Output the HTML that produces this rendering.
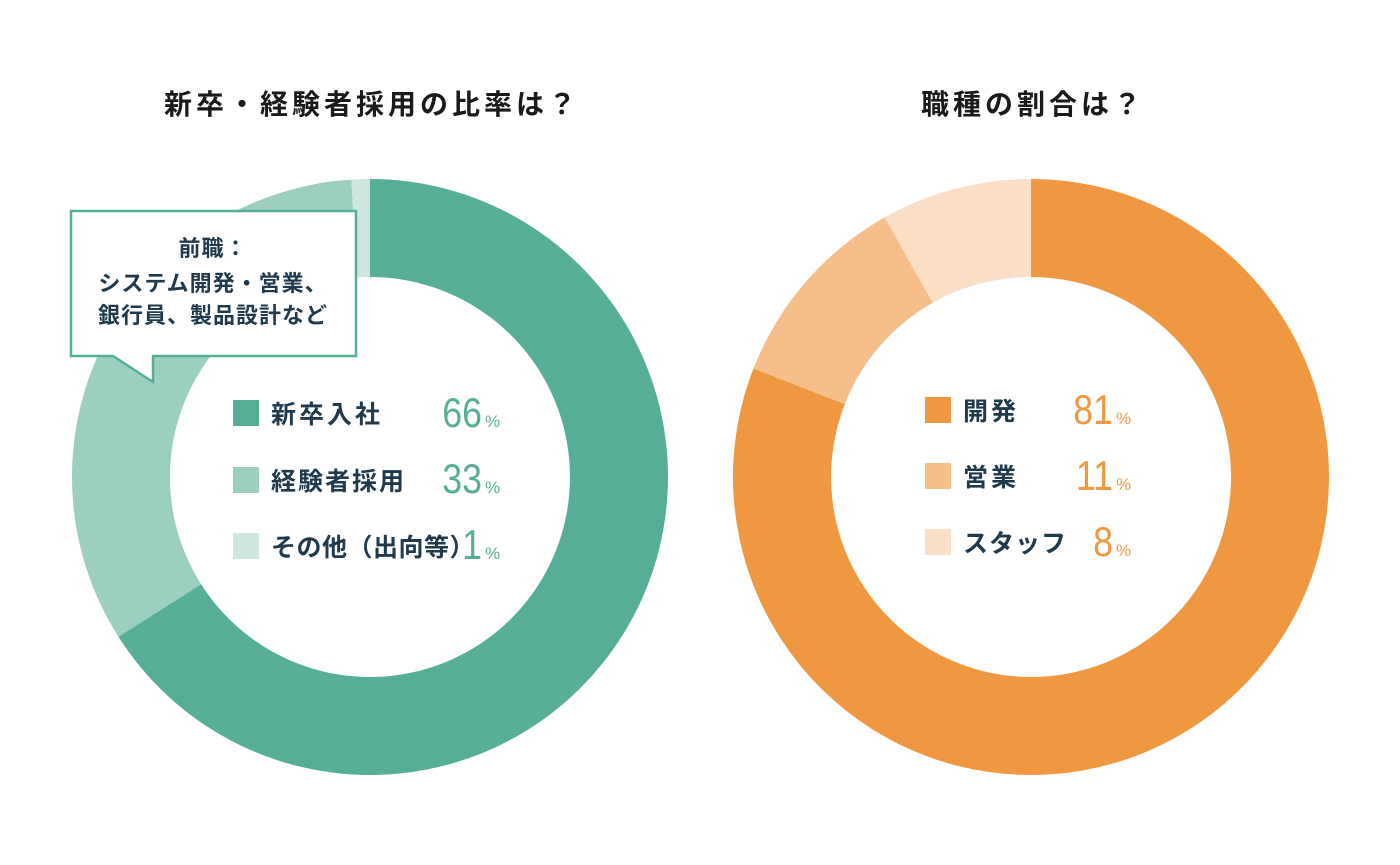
<!DOCTYPE html>
<html><head><meta charset="utf-8"><style>
body{margin:0;background:#fff;}
svg text{font-family:"Liberation Sans","Noto Sans CJK JP",sans-serif;}
</style></head><body>
<svg width="1400" height="860" viewBox="0 0 1400 860" xmlns="http://www.w3.org/2000/svg">
<rect width="1400" height="860" fill="#fff"/>
<text x="372" y="114" text-anchor="middle" font-size="28" font-weight="bold" fill="#1a1a1a" letter-spacing="4">新卒・経験者採用の比率は？</text>
<text x="1033" y="114" text-anchor="middle" font-size="28" font-weight="bold" fill="#1a1a1a" letter-spacing="4">職種の割合は？</text>

<g transform="translate(370,477)">
<path d="M0,-298 A298,298 0 1 1 -251.6,159.7 L-168.9,107.2 A200,200 0 1 0 0,-200 Z" fill="#57ae96"/>
<path d="M-251.6,159.7 A298,298 0 0 1 -18.7,-297.4 L-12.6,-199.6 A200,200 0 0 0 -168.9,107.2 Z" fill="#9dcfc1"/>
<path d="M-18.7,-297.4 A298,298 0 0 1 0,-298 L0,-200 A200,200 0 0 0 -12.6,-199.6 Z" fill="#cde6df"/>
</g>
<g transform="translate(1031,477)">
<path d="M0,-298 A298,298 0 1 1 -277.5,-108.6 L-186.2,-72.9 A200,200 0 1 0 0,-200 Z" fill="#ef9841"/>
<path d="M-277.5,-108.6 A298,298 0 0 1 -146.3,-259.6 L-98.2,-174.2 A200,200 0 0 0 -186.2,-72.9 Z" fill="#f5be8b"/>
<path d="M-146.3,-259.6 A298,298 0 0 1 0,-298 L0,-200 A200,200 0 0 0 -98.2,-174.2 Z" fill="#fadec5"/>
</g>

<path d="M71,211 L356,211 L356,356 L153,356 L153,382 L113,356 L71,356 Z" fill="#fff" stroke="#57ae96" stroke-width="2.5"/>
<g font-size="22" font-weight="bold" fill="#1e3a4c" text-anchor="middle" letter-spacing="1">
<text x="213" y="256">前職：</text>
<text x="213" y="291">システム開発・営業、</text>
<text x="213" y="323">銀行員、製品設計など</text>
</g>

<rect x="233" y="400" width="26" height="26" fill="#57ae96"/>
<rect x="233" y="467" width="26" height="26" fill="#9dcfc1"/>
<rect x="233" y="533" width="26" height="26" fill="#cde6df"/>
<g font-size="25" font-weight="bold" fill="#1e3a4c">
<text x="271" y="423" letter-spacing="3">新卒入社</text>
<text x="271" y="490" letter-spacing="2">経験者採用</text>
<text x="271" y="556" letter-spacing="0.5">その他（出向等）</text>
</g>
<g fill="#57ae96">
<text x="482" y="427" text-anchor="end" font-size="42" transform="translate(482,0) scale(0.85,1) translate(-482,0)">66</text>
<text x="485" y="427" font-size="17">%</text>
<text x="482" y="493" text-anchor="end" font-size="42" transform="translate(482,0) scale(0.85,1) translate(-482,0)">33</text>
<text x="485" y="493" font-size="17">%</text>
<text x="482" y="559" text-anchor="end" font-size="42" transform="translate(482,0) scale(0.85,1) translate(-482,0)">1</text>
<text x="485" y="559" font-size="17">%</text>
</g>

<rect x="925" y="397" width="26" height="26" fill="#ef9841"/>
<rect x="925" y="463" width="26" height="26" fill="#f5be8b"/>
<rect x="925" y="529" width="26" height="26" fill="#fadec5"/>
<g font-size="25" font-weight="bold" fill="#1e3a4c" letter-spacing="3">
<text x="963" y="420">開発</text>
<text x="963" y="486">営業</text>
<text x="963" y="552" letter-spacing="1">スタッフ</text>
</g>
<g fill="#ef9841">
<text x="1113" y="424" text-anchor="end" font-size="42" transform="translate(1113,0) scale(0.85,1) translate(-1113,0)">81</text>
<text x="1116" y="424" font-size="17">%</text>
<text x="1113" y="490" text-anchor="end" font-size="42" transform="translate(1113,0) scale(0.85,1) translate(-1113,0)">11</text>
<text x="1116" y="490" font-size="17">%</text>
<text x="1113" y="556" text-anchor="end" font-size="42" transform="translate(1113,0) scale(0.85,1) translate(-1113,0)">8</text>
<text x="1116" y="556" font-size="17">%</text>
</g>
</svg>
</body></html>
